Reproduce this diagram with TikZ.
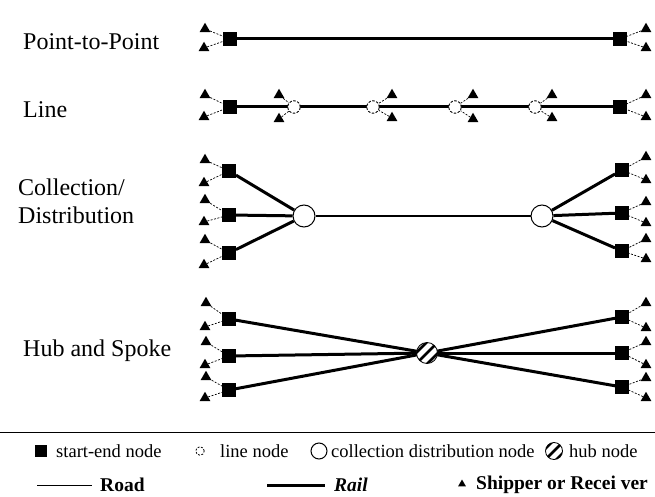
\documentclass[tikz,border=0pt]{standalone}
\usepackage{fontspec}
\setmainfont{Liberation Serif}
\usetikzlibrary{shapes.geometric}
\begin{document}
\begin{tikzpicture}[x=1pt,y=-1pt,
  sq/.style={rectangle,fill=black,draw=none,minimum size=13.5pt,inner sep=0pt},
  sqs/.style={rectangle,fill=black,draw=none,minimum size=11.5pt,inner sep=0pt},
  tri/.style={regular polygon,regular polygon sides=3,fill=black,draw=none,minimum size=12.5pt,inner sep=0pt},
  tris/.style={regular polygon,regular polygon sides=3,fill=black,draw=none,minimum size=9pt,inner sep=0pt},
  lnode/.style={circle,draw,dashed,dash pattern=on 2.5pt off 1.5pt,fill=white,minimum size=12.5pt,inner sep=0pt,line width=0.9pt},
  lnodes/.style={circle,draw,dashed,dash pattern=on 2pt off 1.5pt,fill=white,minimum size=8.5pt,inner sep=0pt,line width=0.8pt},
  cnode/.style={circle,draw,fill=white,minimum size=#1,inner sep=0pt,line width=1pt},
  cnode/.default=22pt,
  hnode/.style={circle,draw,fill=white,minimum size=#1,inner sep=0pt,line width=0.8pt,
    path picture={\foreach \d in {-5.5,0,5.5}{\draw[line width=2.8pt]
      ([shift={(-14+\d,14+\d)}]path picture bounding box.center) --
      ([shift={(14+\d,-14+\d)}]path picture bounding box.center);}}},
  hnode/.default=21pt,
  rail/.style={line width=3pt},
  road/.style={line width=0.7pt,dash pattern=on 2pt off 1.5pt},
  lab/.style={anchor=west,font=\fontsize{24}{28}\selectfont,align=left,inner sep=0pt},
  leg/.style={anchor=west,font=\fontsize{18.5}{22}\selectfont,inner sep=0pt},
  legb/.style={anchor=west,font=\fontsize{19.5}{22}\selectfont\bfseries,inner sep=0pt}]
\useasboundingbox (0,0) rectangle (655,497);

% labels
\node[lab] (L1) at (23,42) {Point-to-Point};
\node[lab] (L2) at (23,110) {Line};
\node[lab] (L3) at (18,201) {Collection/\\Distribution};
\node[lab] (L4) at (23,351) {Hub and Spoke};

% ---------- Row 1: point-to-point
\node[sq] (a1) at (230,39) {};
\node[sq] (b1) at (620,39) {};
\node[tri] (a1t) at (205,29) {};
\node[tri] (a1b) at (204,48) {};
\node[tri] (b1t) at (646,29) {};
\node[tri] (b1b) at (646,48) {};
\draw[rail] (a1) -- (b1);
\foreach \t/\n in {a1t/a1,a1b/a1,b1t/b1,b1b/b1}{\draw[road] (\t) -- (\n);}

% ---------- Row 2: line
\node[sq] (a2) at (230,107) {};
\node[sq] (b2) at (620,107) {};
\draw[rail] (a2) -- (294,107) coordinate (p1) -- (373,107) coordinate (p2)
  -- (455,107) coordinate (p3) -- (535,107) coordinate (p4) -- (b2);
\node[lnode] (l1) at (p1) {};
\node[lnode] (l2) at (p2) {};
\node[lnode] (l3) at (p3) {};
\node[lnode] (l4) at (p4) {};
\node[tri] (a2t) at (205,95) {};
\node[tri] (a2b) at (204,117) {};
\node[tri] (l1t) at (279,95) {};
\node[tri] (l1b) at (279,119) {};
\node[tri] (l2t) at (392,95) {};
\node[tri] (l2b) at (392,118) {};
\node[tri] (l3t) at (473,95) {};
\node[tri] (l3b) at (473,119) {};
\node[tri] (l4t) at (552,95) {};
\node[tri] (l4b) at (552,118) {};
\node[tri] (b2t) at (646,95) {};
\node[tri] (b2b) at (646,117) {};
\foreach \t/\n in {a2t/a2,a2b/a2,l1t/l1,l1b/l1,l2t/l2,l2b/l2,l3t/l3,l3b/l3,l4t/l4,l4b/l4,b2t/b2,b2b/b2}{\draw[road] (\t) -- (\n);}

% ---------- Row 3: collection / distribution
\node[sq] (a31) at (229,171) {};
\node[sq] (a32) at (229,215) {};
\node[sq] (a33) at (229,253) {};
\node[sq] (b31) at (622,170) {};
\node[sq] (b32) at (622,213) {};
\node[sq] (b33) at (622,251) {};
\node[cnode] (c1) at (304,216) {};
\node[cnode] (c2) at (542,216) {};
\draw[rail] (a31) -- (c1);
\draw[rail] (a32) -- (c1);
\draw[rail] (a33) -- (c1);
\draw[line width=2.3pt] (c1) -- (c2);
\draw[rail] (c2) -- (b31);
\draw[rail] (c2) -- (b32);
\draw[rail] (c2) -- (b33);
\node[tri] (a31t) at (205,160) {};
\node[tri] (a31b) at (204,183) {};
\node[tri] (a32t) at (205,200) {};
\node[tri] (a32b) at (204,222) {};
\node[tri] (a33t) at (205,240) {};
\node[tri] (a33b) at (204,265) {};
\node[tri] (b31t) at (646,157) {};
\node[tri] (b31b) at (646,180) {};
\node[tri] (b32t) at (646,202) {};
\node[tri] (b32b) at (646,223) {};
\node[tri] (b33t) at (646,239) {};
\node[tri] (b33b) at (646,259) {};
\foreach \t/\n in {a31t/a31,a31b/a31,a32t/a32,a32b/a32,a33t/a33,a33b/a33,b31t/b31,b31b/b31,b32t/b32,b32b/b32,b33t/b33,b33b/b33}{\draw[road] (\t) -- (\n);}

% ---------- Row 4: hub and spoke
\node[sq] (a41) at (229,319) {};
\node[sq] (a42) at (229,356) {};
\node[sq] (a43) at (229,390) {};
\node[sq] (b41) at (622,317) {};
\node[sq] (b42) at (622,353) {};
\node[sq] (b43) at (622,387) {};
\coordinate (hc) at (427,353);
\foreach \n in {a41,a42,a43,b41,b42,b43}{\draw[rail] (\n) -- (hc);}
\node[hnode] (h) at (hc) {};
\node[tri] (a41t) at (206,303) {};
\node[tri] (a41b) at (205,327) {};
\node[tri] (a42t) at (206,342) {};
\node[tri] (a42b) at (205,365) {};
\node[tri] (a43t) at (206,377) {};
\node[tri] (a43b) at (205,398) {};
\node[tri] (b41t) at (646,303) {};
\node[tri] (b41b) at (646,328) {};
\node[tri] (b42t) at (646,342) {};
\node[tri] (b42b) at (646,365) {};
\node[tri] (b43t) at (646,378) {};
\node[tri] (b43b) at (646,398) {};
\foreach \t/\n in {a41t/a41,a41b/a41,a42t/a42,a42b/a42,a43t/a43,a43b/a43,b41t/b41,b41b/b41,b42t/b42,b42b/b42,b43t/b43,b43b/b43}{\draw[road] (\t) -- (\n);}

% ---------- separator
\coordinate (s1) at (0,432);
\coordinate (s2) at (655,432);
\draw[line width=0.9pt] (s1) -- (s2);

% ---------- legend
\node[sqs] (k1) at (41,451) {};
\node[leg] (k1t) at (56,451) {start-end node};
\node[lnodes] (k2) at (200,451) {};
\node[leg] (k2t) at (220,451) {line node};
\node[cnode=16pt] (k3) at (319,451) {};
\node[leg] (k3t) at (331,451) {collection distribution node};
\node[hnode=17pt] (k4) at (554,451) {};
\node[leg] (k4t) at (569,451) {hub node};

\coordinate (r1) at (37,485);
\coordinate (r2) at (92,485);
\draw[line width=0.8pt] (r1) -- (r2);
\node[legb] (r3) at (100,485) {Road};
\coordinate (q1) at (267,485);
\coordinate (q2) at (325,485);
\draw[rail] (q1) -- (q2);
\node[legb,font=\fontsize{19.5}{22}\selectfont\bfseries\itshape] (q3) at (334,485) {Rail};
\node[tris] (k5) at (462,484) {};
\node[legb] (k5t) at (476,485) {Shipper or Recei ver};
\end{tikzpicture}
\end{document}
